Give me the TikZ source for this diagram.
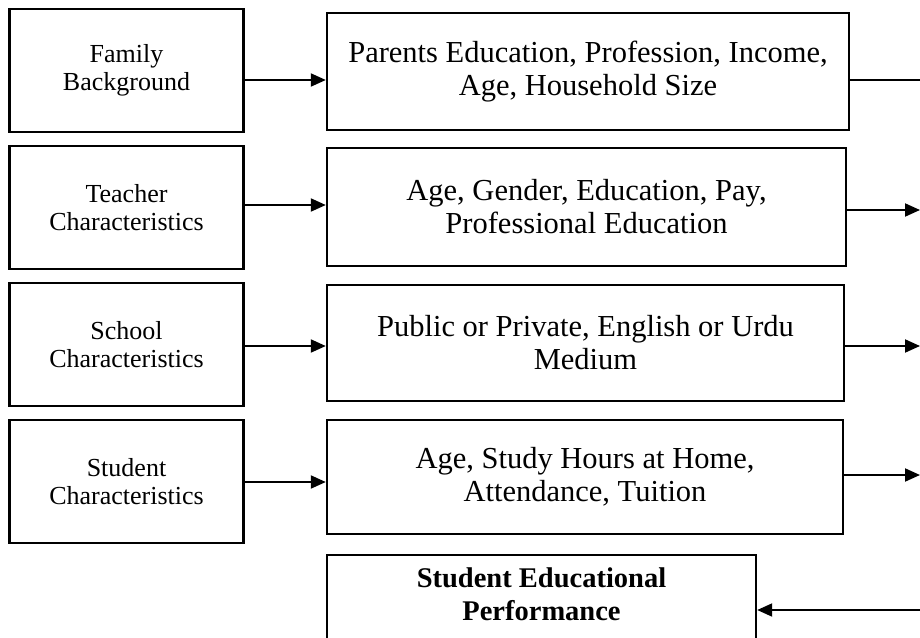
\documentclass[tikz,border=0pt]{standalone}
\usepackage{fontspec}
\setmainfont{Liberation Serif}
\usetikzlibrary{arrows.meta}
\tikzset{
  box/.style={draw=black, line width=2.4pt, fill=white, align=center, inner sep=0pt, anchor=center},
  lbox/.style={box, minimum width=234pt, minimum height=123pt, font=\fontsize{26}{28}\selectfont},
  rbox/.style={box, font=\fontsize{30.5}{33}\selectfont},
  arr/.style={line width=2pt, -{Triangle[length=15pt,width=13pt]}},
  ln/.style={line width=2pt},
}
\begin{document}
\begin{tikzpicture}[x=1pt,y=-1pt]
\useasboundingbox (0,0) rectangle (920,637);
\begin{scope}
\clip (0,0) rectangle (920,637);
\node[lbox] (L1) at (126.5,70.5) {Family\\Background};
\node[lbox] (L2) at (126.5,207.5) {Teacher\\Characteristics};
\node[lbox] (L3) at (126.5,344.5) {School\\Characteristics};
\node[lbox] (L4) at (126.5,481.5) {Student\\Characteristics};
\node[rbox, minimum width=522pt, minimum height=117pt] (R1) at (588,71.5) {Parents Education, Profession, Income,\\Age, Household Size};
\node[rbox, minimum width=519pt, minimum height=118pt] (R2) at (586.5,207) {Age, Gender, Education, Pay,\\Professional Education};
\node[rbox, minimum width=517pt, minimum height=116pt] (R3) at (585.5,343) {Public or Private, English or Urdu\\Medium};
\node[rbox, minimum width=516pt, minimum height=114pt] (R4) at (585,477) {Age, Study Hours at Home,\\Attendance, Tuition};
\node[box, minimum width=429pt, minimum height=140pt] (P) at (541.5,625) {};
\node[font=\fontsize{28.5}{33}\selectfont\bfseries, align=center, anchor=north, inner sep=0pt] (PT) at (541.5,568) {Student Educational\\Performance};
\coordinate (E1) at (925,80);
\coordinate (E2) at (925,210);
\coordinate (E3) at (925,346);
\coordinate (E4) at (925,475);
\coordinate (E5) at (925,610);
\draw[arr] (L1.east |- 0,80) -- (R1.west |- 0,80);
\draw[arr] (L2.east |- 0,205) -- (R2.west |- 0,205);
\draw[arr] (L3.east |- 0,346) -- (R3.west |- 0,346);
\draw[arr] (L4.east |- 0,482) -- (R4.west |- 0,482);
\draw[ln] (R1.east |- E1) -- (E1);
\draw[arr] (R2.east |- E2) -- ([xshift=-5pt]E2);
\draw[arr] (R3.east |- E3) -- ([xshift=-5pt]E3);
\draw[arr] (R4.east |- E4) -- ([xshift=-5pt]E4);
\draw[arr] (E5) -- (P.east |- E5);
\end{scope}
\end{tikzpicture}
\end{document}
